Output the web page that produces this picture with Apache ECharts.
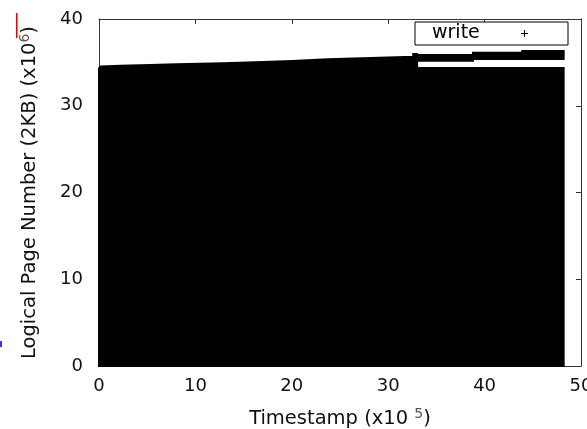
<!DOCTYPE html>
<html><head><meta charset="utf-8">
<script src="https://cdn.jsdelivr.net/npm/echarts@6/dist/echarts.min.js"></script>
<style>html,body{margin:0;padding:0;background:#fff}#c{width:587px;height:429px}</style>
</head><body><div id="c"></div>
<script>
// Tick values
const xTicks = [0, 10, 20, 30, 40, 50];
const yTicks = [0, 10, 20, 30, 40];
// Main (lower) dense block of "write" points: envelope
const lowerX      = [0, 0.2, 2.2, 5.3, 8.0, 12.9, 17.8, 20.0, 23.75, 32.6, 32.6, 33.0, 33.0, 48.2];
const lowerTop    = [34.32, 34.53, 34.6, 34.7, 34.78, 34.9, 35.08, 35.16, 35.36, 35.66, 35.97, 35.97, 34.35, 34.35];
const lowerBottom = [0, 0, 0, 0, 0, 0, 0, 0, 0, 0, 0, 0, 0, 0];
// Upper band of "write" points after t ~ 33
const bandX      = [33.0, 38.8, 38.8, 43.9, 43.9, 48.2];
const bandTop    = [35.85, 35.85, 36.12, 36.12, 36.32, 36.32];
const bandBottom = [35.18, 35.18, 35.39, 35.39, 35.39, 35.39];

const FONT = 'DejaVu Sans';
const AX = '#333';

function polyItem(params, api) {
  if (params.dataIndexInside !== 0) return null;
  const n = params.dataInsideLength;
  const top = [], bot = [];
  for (let i = 0; i < n; i++) {
    top.push(api.coord([api.value(0, i), api.value(1, i)]));
    bot.push(api.coord([api.value(0, i), api.value(2, i)]));
  }
  return {
    type: 'polygon',
    shape: { points: top.concat(bot.reverse()) },
    style: { fill: '#000', stroke: '#000', lineWidth: 2 }
  };
}

const chart = echarts.init(document.getElementById('c'), null, { renderer: 'canvas' });
const baseX = {
  type: 'value', min: xTicks[0], max: xTicks[xTicks.length - 1], interval: 10,
  axisLine: { show: true, onZero: false, lineStyle: { color: AX, width: 1 } },
  axisTick: { show: true, inside: true, length: 5, lineStyle: { color: AX } },
  splitLine: { show: false }
};
const baseY = {
  type: 'value', min: yTicks[0], max: yTicks[yTicks.length - 1], interval: 10,
  axisLine: { show: true, onZero: false, lineStyle: { color: AX, width: 1 } },
  axisTick: { show: true, inside: true, length: 5, lineStyle: { color: AX } },
  splitLine: { show: false }
};
chart.setOption({
  animation: false,
  backgroundColor: '#fff',
  grid: { left: 99, right: 6, top: 19, bottom: 63, containLabel: false, outerBoundsMode: 'none' },
  xAxis: [
    Object.assign({}, baseX, {
      position: 'bottom',
      axisLabel: { fontFamily: FONT, fontSize: 18, color: '#111', margin: 11 },
      name: 'Timestamp (x10 {sup|5})',
      nameLocation: 'middle', nameGap: 41,
      nameTextStyle: {
        fontFamily: FONT, fontSize: 19.5, color: '#111',
        rich: { sup: { fontFamily: FONT, fontSize: 14, color: '#555', padding: [0, 0, 10, 0] } }
      }
    }),
    Object.assign({}, baseX, { position: 'top', axisLabel: { show: false } })
  ],
  yAxis: [
    Object.assign({}, baseY, {
      position: 'left',
      axisLabel: { fontFamily: FONT, fontSize: 18, color: '#111', margin: 16 },
      name: 'Logical Page Number (2KB) (x10{sup|6})',
      nameLocation: 'middle', nameGap: 57,
      nameTextStyle: {
        fontFamily: FONT, fontSize: 19.5, color: '#111',
        rich: { sup: { fontFamily: FONT, fontSize: 14, color: '#555', padding: [0, 0, 10, 0] } }
      }
    }),
    Object.assign({}, baseY, { position: 'right', axisLabel: { show: false } })
  ],
  legend: {
    left: 415, top: 22, align: 'right', selectedMode: false,
    data: [{ name: 'write', icon: 'path://M3,0H4V3H7V4H4V7H3V4H0V3H3Z' }],
    itemWidth: 7, itemHeight: 7,
    padding: [2, 40, 2, 17],
    borderColor: '#000', borderWidth: 1, borderRadius: 0, backgroundColor: '#fff',
    itemStyle: { color: '#000' },
    formatter: '{a|{name}}',
    textStyle: {
      fontFamily: FONT, fontSize: 19, color: '#000', lineHeight: 19,
      rich: { a: { fontFamily: FONT, fontSize: 19, color: '#000', width: 84, align: 'left', lineHeight: 19 } }
    }
  },
  graphic: [
    { type: 'rect', left: 16, top: 13, shape: { width: 1.5, height: 25 }, style: { fill: '#e00' } },
    { type: 'rect', left: 0, top: 341, shape: { width: 2, height: 6 }, style: { fill: '#33f' } }
  ],
  series: [
    {
      name: 'write', type: 'custom', renderItem: polyItem, clip: false,
      itemStyle: { color: '#000' },
      encode: { x: 0, y: 1 },
      data: lowerX.map((x, i) => [x, lowerTop[i], lowerBottom[i]])
    },
    {
      name: 'write', type: 'custom', renderItem: polyItem, clip: false,
      itemStyle: { color: '#000' },
      encode: { x: 0, y: 1 },
      data: bandX.map((x, i) => [x, bandTop[i], bandBottom[i]])
    }
  ]
});
</script>
</body></html>
